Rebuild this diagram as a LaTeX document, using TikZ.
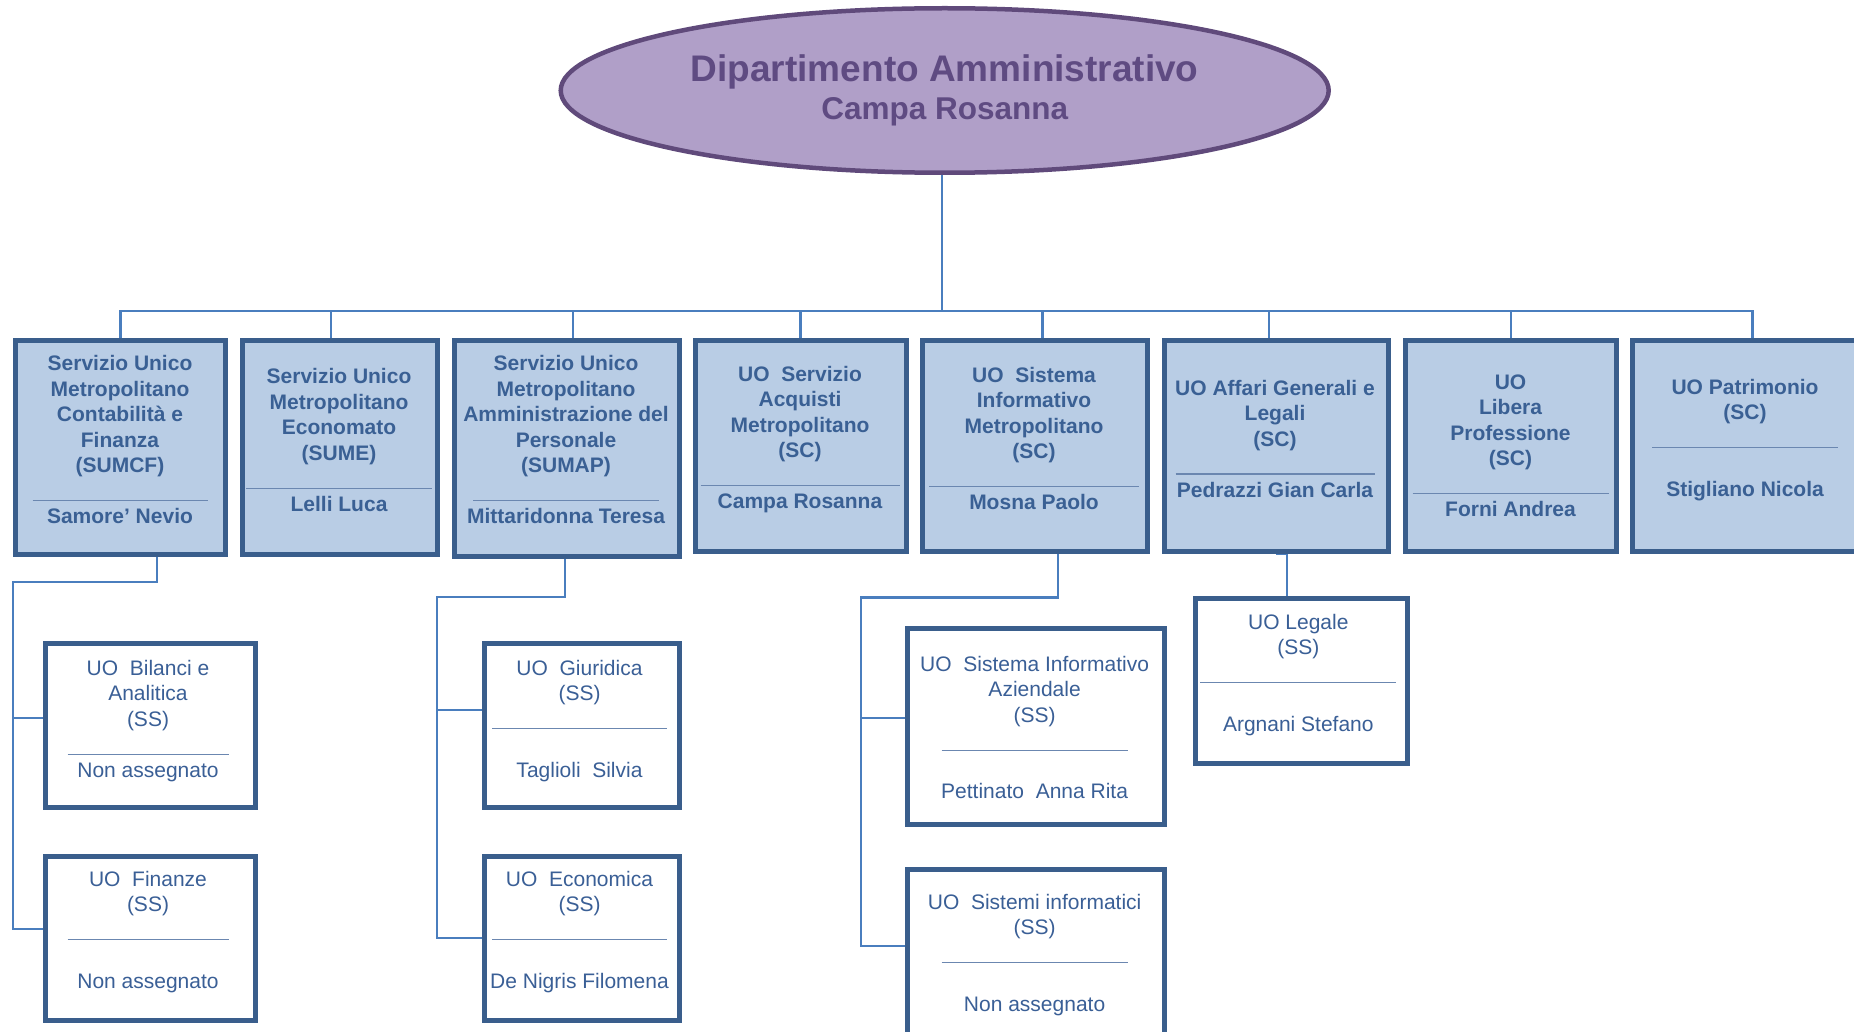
\documentclass[tikz,border=0pt]{standalone}
\usepackage{fontspec}
\setmainfont{Liberation Sans}
\usetikzlibrary{shapes.geometric}
\pgfdeclarelayer{back}
\pgfdeclarelayer{bg}
\pgfsetlayers{back,bg,main}
\definecolor{boxfill}{HTML}{B9CDE5}
\definecolor{boxline}{HTML}{3A5E8C}
\definecolor{boxtextc}{HTML}{3A6094}
\definecolor{subtextc}{HTML}{3A5F96}
\definecolor{connc}{HTML}{4A7EBE}
\definecolor{ellfill}{HTML}{B09FC8}
\definecolor{ellline}{HTML}{604A7B}
\definecolor{elltextc}{HTML}{5F4B82}
\newcommand\sepbar[1]{{\color{subtextc!75}\rule[-3pt]{#1pt}{1.1pt}}}
\begin{document}
\begin{tikzpicture}[x=1pt,y=-1pt,
  topbox/.style={draw=boxline, fill=boxfill, line width=5pt, rectangle, inner sep=0pt},
  subbox/.style={draw=boxline, fill=white, line width=5pt, rectangle, inner sep=0pt},
  toptext/.style={align=center, text=boxtextc, font=\fontsize{21}{25.5}\selectfont\bfseries, inner sep=0pt},
  subtext/.style={align=center, text=subtextc, font=\fontsize{21}{25.5}\selectfont, inner sep=0pt},
  link/.style={draw=connc, line width=2.5pt},
]
\useasboundingbox (0,0) rectangle (1854,1032);
\begin{pgfonlayer}{back}
\fill[white] (0,0) rectangle (1854,1032);
\end{pgfonlayer}

% root
\node[ellipse, draw=ellline, fill=ellfill, line width=4.5pt, minimum width=768pt, minimum height=164.5pt,
      inner sep=0pt, align=center, text=elltextc, font=\bfseries] (dip) at (944.7,90.5)
  {\fontsize{37}{38}\selectfont Dipartimento Amministrativo\\[8pt] \fontsize{31.5}{38}\selectfont Campa Rosanna};

% top level boxes
\node[topbox, minimum width=210pt, minimum height=214pt] (b1) at (120,447.5) {};
\node[topbox, minimum width=195pt, minimum height=214pt] (b2) at (339.5,447.5) {};
\node[topbox, minimum width=225pt, minimum height=216pt] (b3) at (567,448.5) {};
\node[topbox, minimum width=211pt, minimum height=211pt] (b4) at (800.5,446) {};
\node[topbox, minimum width=225pt, minimum height=211pt] (b5) at (1035,446) {};
\node[topbox, minimum width=223.5pt, minimum height=211pt] (b6) at (1276.25,446) {};
\node[topbox, minimum width=211pt, minimum height=211pt] (b7) at (1511,446) {};
\node[topbox, minimum width=225pt, minimum height=211pt] (b8) at (1745,446) {};

\node[toptext] (t1) at (120,439.9) {Servizio Unico\\Metropolitano\\Contabilità e\\Finanza\\(SUMCF)\\\sepbar{175}\\Samore’ Nevio};
\node[toptext] (t2) at (339,439.9) {Servizio Unico\\Metropolitano\\Economato\\(SUME)\\\sepbar{186}\\Lelli Luca};
\node[toptext] (t3) at (566,439.9) {Servizio Unico\\Metropolitano\\Amministrazione del\\Personale\\(SUMAP)\\\sepbar{186}\\Mittaridonna Teresa};
\node[toptext] (t4) at (800,439.5) {UO~~Servizio\\Acquisti\\Metropolitano\\(SC)\\\sepbar{199}\\Campa Rosanna};
\node[toptext] (t5) at (1034,438.7) {UO~~Sistema\\Informativo\\Metropolitano\\(SC)\\\sepbar{210}\\Mosna Paolo};
\node[toptext] (t6) at (1275,438.5) {UO Affari Generali e\\Legali\\(SC)\\\sepbar{199}\\Pedrazzi Gian Carla};
\node[toptext] (t7) at (1510.5,445.8) {UO\\Libera\\Professione\\(SC)\\\sepbar{196}\\Forni Andrea};
\node[toptext] (t8) at (1745,440) {UO Patrimonio\\(SC)\\\sepbar{186}\\\mbox{}\\Stigliano Nicola};

% second level boxes
\node[subbox, minimum width=210pt, minimum height=164pt] (bil) at (150.5,725.5) {};
\node[subbox, minimum width=210pt, minimum height=164pt] (fin) at (150.5,938.5) {};
\node[subbox, minimum width=195pt, minimum height=164pt] (giu) at (582,725.5) {};
\node[subbox, minimum width=195pt, minimum height=164pt] (eco) at (582,938.5) {};
\node[subbox, minimum width=257pt, minimum height=196pt] (sia) at (1036,726.5) {};
\node[subbox, minimum width=257pt, minimum height=196pt] (sis) at (1036,967.5) {};
\node[subbox, minimum width=212pt, minimum height=165pt] (leg) at (1301.5,681) {};

\node[subtext] (tbil) at (148,721) {UO~~Bilanci e\\Analitica\\(SS)\\\sepbar{161}\\Non assegnato};
\node[subtext] (tfin) at (148,932) {UO~~Finanze\\(SS)\\\sepbar{161}\\\mbox{}\\Non assegnato};
\node[subtext] (tgiu) at (579.5,721) {UO~~Giuridica\\(SS)\\\sepbar{175}\\\mbox{}\\Taglioli~~Silvia};
\node[subtext] (teco) at (579.5,932) {UO~~Economica\\(SS)\\\sepbar{175}\\\mbox{}\\De Nigris Filomena};
\node[subtext] (tsia) at (1034.6,727.5) {UO~~Sistema Informativo\\Aziendale\\(SS)\\\sepbar{186}\\\mbox{}\\Pettinato~~Anna Rita};
\node[subtext] (tsis) at (1034.6,955) {UO~~Sistemi informatici\\(SS)\\\sepbar{186}\\\mbox{}\\Non assegnato};
\node[subtext] (tleg) at (1298.3,675) {UO Legale\\(SS)\\\sepbar{196}\\\mbox{}\\Argnani Stefano};

% connectors
\coordinate (hub) at (942,311);
\coordinate (s1) at (13,582);
\coordinate (s3) at (437,597);
\coordinate (s5) at (861,597.5);
\begin{pgfonlayer}{bg}
\draw[link] (dip.south -| hub) -- (hub);
\draw[link] ([xshift=0.5pt]b1.north) |- (hub);
\draw[link] ([xshift=-8.5pt]b2.north) |- (hub);
\draw[link] ([xshift=6pt]b3.north) |- (hub);
\draw[link] (b4.north) |- (hub);
\draw[link] ([xshift=7.5pt]b5.north) |- (hub);
\draw[link] ([xshift=-7.5pt]b6.north) |- (hub);
\draw[link] (b7.north) |- (hub);
\draw[link] ([xshift=7.5pt]b8.north) |- (hub);

\draw[link] ([xshift=37pt]b1.south) |- (s1) |- ([yshift=9.5pt]fin.west);
\draw[link] ([yshift=7.5pt]bil.west) -| (s1);

\draw[link] ([xshift=-2pt]b3.south) |- (s3) |- ([yshift=0.5pt]eco.west);
\draw[link] ([yshift=15.5pt]giu.west) -| (s3);

\draw[link] ([xshift=23pt]b5.south) |- (s5) |- ([yshift=21.5pt]sis.west);
\draw[link] ([yshift=8.5pt]sia.west) -| (s5);

\draw[link] ([xshift=-14.5pt]leg.north) |- (b6.south);
\end{pgfonlayer}
\end{tikzpicture}
\end{document}
